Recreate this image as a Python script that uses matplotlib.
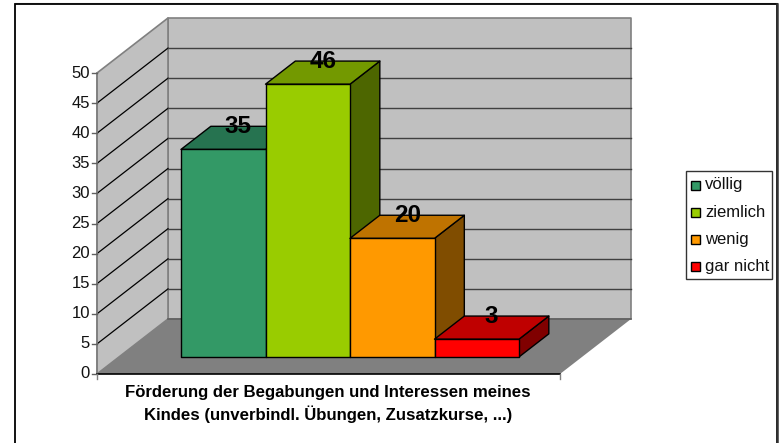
#!/usr/bin/env python3
"""3D-Saeulendiagramm im Excel-Stil, mit Polygonen nachgebaut."""
import matplotlib
matplotlib.use("Agg")
import matplotlib.pyplot as plt
from matplotlib.patches import Polygon, Rectangle

CATEGORIES = ["völlig", "ziemlich", "wenig", "gar nicht"]
VALUES = [35, 46, 20, 3]
Y_TICKS = [0, 5, 10, 15, 20, 25, 30, 35, 40, 45, 50]
XLABEL = "Förderung der Begabungen und Interessen meines\nKindes (unverbindl. Übungen, Zusatzkurse, ...)"

FRONT = ["#339966", "#99CC00", "#FF9900", "#FF0000"]
TOP = ["#267350", "#739900", "#BF7300", "#BF0000"]
SIDE = ["#1A4D33", "#4D6600", "#804D00", "#800000"]
WALL = "#C0C0C0"
FLOOR = "#808080"

# Geometrie in Pixeln
X0, X1 = 97, 560
Y0, Y50 = 374, 73
DX, DY = 71, -55
BAR_X0, BAR_X1 = 181, 519
D_FRONT, D_BACK = 0.31, 0.73


def proj(frac, value, depth=0.0):
    x = X0 + (X1 - X0) * frac + DX * depth
    y = Y0 + (Y50 - Y0) * value / 50 + DY * depth
    return x, y


def bar_frac(i):
    # Saeulen-Kanten als Anteil der Achse, bezogen auf die Vorderflaeche
    w = (BAR_X1 - BAR_X0) / len(VALUES)
    shift = DX * D_FRONT
    return (BAR_X0 + i * w - X0 - shift) / (X1 - X0), (BAR_X0 + (i + 1) * w - X0 - shift) / (X1 - X0)


def poly(ax, pts, fc, ec="black", lw=1.0, z=2):
    ax.add_patch(Polygon(pts, closed=True, facecolor=fc, edgecolor=ec, linewidth=lw, zorder=z, joinstyle="round"))


def main():
    plt.rcParams["font.family"] = ["Liberation Sans", "DejaVu Sans"]
    fig = plt.figure(figsize=(7.8, 4.43), dpi=100)
    ax = fig.add_axes([0, 0, 1, 1])
    ax.set_xlim(0, 780)
    ax.set_ylim(443, 0)
    ax.axis("off")

    # Rahmen, unten abgeschnitten
    ax.plot([15, 777], [3, 3], color="#A0A0A0", lw=0.8, zorder=0)
    ax.add_patch(Rectangle((15, 4), 762, 460, facecolor="white", edgecolor="black", linewidth=1.3, zorder=0))
    ax.plot([777, 777], [4, 443], color="#333333", lw=1.8, zorder=0.5)

    # Waende und Boden
    poly(ax, [proj(0, 0, 1), proj(1, 0, 1), proj(1, 50, 1), proj(0, 50, 1)], WALL, "#808080", 1.2, 1)
    poly(ax, [proj(0, 0), proj(0, 0, 1), proj(0, 50, 1), proj(0, 50)], WALL, "#808080", 1.2, 1)
    poly(ax, [proj(0, 0), proj(1, 0), proj(1, 0, 1), proj(0, 0, 1)], FLOOR, "none", 0, 1)

    # Gitterlinien
    for t in Y_TICKS[1:-1]:
        ax.plot(*zip(proj(0, t), proj(0, t, 1)), color="black", lw=0.9, zorder=1.5)
        ax.plot(*zip(proj(0, t, 1), proj(1, t, 1)), color="#404040", lw=1.0, zorder=1.5)
    ax.plot(*zip(proj(0, 0, 1), proj(1, 0, 1)), color="#606060", lw=1.2, zorder=1.5)

    # Achsen
    ax.plot(*zip(proj(0, 0), proj(0, 50)), color="#808080", lw=1.2, zorder=1.6)
    ax.plot(*zip(proj(0, 0), proj(1, 0)), color="black", lw=1.2, zorder=1.6)
    for t in Y_TICKS:
        x, y = proj(0, t)
        ax.plot([x - 5, x], [y, y], color="#606060", lw=1.0, zorder=1.6)
        ax.text(x - 7, y, str(t), ha="right", va="center", fontsize=12, color="#111111")
    for frac in (0, 1):
        x, y = proj(frac, 0)
        ax.plot([x, x], [y, y + 5], color="#808080", lw=1.0, zorder=1.6)

    # Saeulen von links nach rechts, die rechte deckt die Seite der linken
    scale = 0.985
    for i, v in enumerate(VALUES):
        a, b = bar_frac(i)
        top = v * scale
        z = 3 + i * 0.1
        poly(ax, [proj(b, 0, D_FRONT), proj(b, 0, D_BACK), proj(b, top, D_BACK), proj(b, top, D_FRONT)], SIDE[i], z=z)
        poly(ax, [proj(a, top, D_FRONT), proj(b, top, D_FRONT), proj(b, top, D_BACK), proj(a, top, D_BACK)], TOP[i], z=z)
        poly(ax, [proj(a, 0, D_FRONT), proj(b, 0, D_FRONT), proj(b, top, D_FRONT), proj(a, top, D_FRONT)], FRONT[i], z=z)

    # Wertebeschriftung
    for i, v in enumerate(VALUES):
        a, b = bar_frac(i)
        x, _ = proj((a + b) / 2, v * scale, (D_FRONT + D_BACK) / 2)
        _, y = proj((a + b) / 2, v * scale, D_BACK)
        ax.text(x, y, str(v), ha="center", va="center", fontsize=17.5, fontweight="bold", color="black", zorder=6)

    ax.text(328, 404, XLABEL, ha="center", va="center", fontsize=12.1, fontweight="bold", linespacing=1.35, color="black")

    # Legende
    ax.add_patch(Rectangle((686, 171), 86, 108, facecolor="white", edgecolor="#333333", linewidth=1.0, zorder=2))
    for i, name in enumerate(CATEGORIES):
        y = 185 + i * 27
        ax.add_patch(Rectangle((691, y - 4.5), 9, 9, facecolor=FRONT[i], edgecolor="black", linewidth=1.0, zorder=3))
        ax.text(705, y, name, ha="left", va="center", fontsize=12, color="#111111", zorder=3)

    fig.savefig("out.png", dpi=100)


if __name__ == "__main__":
    main()
